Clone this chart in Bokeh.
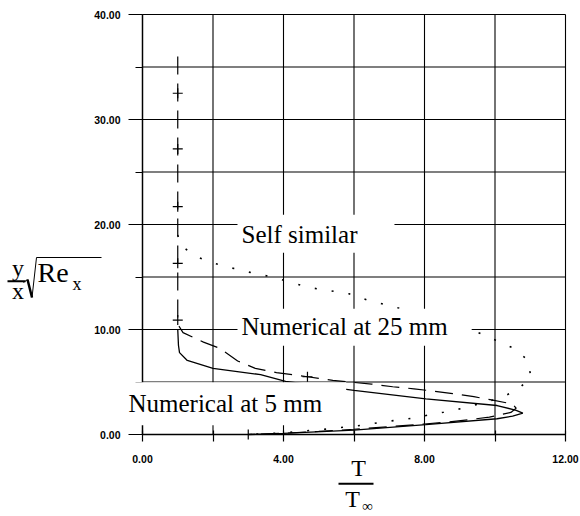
from bokeh.plotting import figure
from bokeh.models import Range1d, FixedTicker, NumeralTickFormatter, Label, Arrow
from bokeh.embed import file_html
from bokeh.resources import INLINE

# ---------------- data ----------------
# Self similar profile (dashed with + markers)
ss_T = [1.0, 1.0, 1.15, 1.73, 2.2, 2.7, 3.2, 3.8, 4.68, 5.4, 6.5, 7.1, 7.7, 8.2, 8.8, 9.4,
        9.9, 10.5, 10.6, 10.45, 9.84, 9.3, 8.7, 8.0, 7.0, 6.0, 5.0, 4.0, 3.0]
ss_eta = [36.0, 10.5, 9.7, 8.8, 8.2, 7.0, 6.3, 5.9, 5.5, 5.15, 4.8, 4.55, 4.35, 4.15, 3.9, 3.6,
          3.3, 2.9, 2.5, 2.1, 1.65, 1.43, 1.2, 1.0, 0.75, 0.5, 0.3, 0.12, 0.0]
ss_mark_T = [1.0, 1.0, 1.0, 1.0, 1.0, 4.68, 3.0]
ss_mark_eta = [32.5, 27.2, 21.7, 16.3, 10.9, 5.5, 0.0]

# Numerical at 5 mm (solid)
n5_T = [1.0, 1.02, 1.05, 1.27, 2.0, 3.35, 4.06, 6.0, 8.04, 10.06, 10.6, 10.79, 10.5, 10.06,
        8.04, 6.0, 4.0, 3.0]
n5_eta = [10.0, 8.5, 7.8, 7.05, 6.3, 5.7, 5.05, 4.2, 3.4, 2.76, 2.3, 2.03, 1.75, 1.5,
          0.95, 0.42, 0.1, 0.0]

# Numerical at 25 mm (dotted)
n25_T = [1.0, 1.08, 1.55, 2.03, 2.6, 3.1, 3.68, 4.2, 4.72, 5.3, 5.86, 6.38, 6.9, 7.42, 8.5,
         9.5, 10.5, 10.93, 11.02, 10.64, 10.14, 9.08, 8.54, 7.44, 6.9, 6.33, 5.3, 4.72, 4.0, 3.0]
n25_eta = [19.0, 18.0, 16.9, 16.3, 15.8, 15.4, 15.0, 14.5, 14.0, 13.7, 13.4, 12.8, 12.35, 11.9,
           10.9, 9.75, 8.26, 7.1, 5.46, 4.26, 3.46, 2.5, 2.12, 1.43, 1.24, 0.92, 0.54, 0.38, 0.15, 0.0]

x_ticks = [0, 4, 8, 12]
x_minor = [2, 6, 10]
x_grid = [0, 2, 4, 6, 8, 10, 12]
y_ticks = [0, 10, 20, 30, 40]
y_minor = [5, 15, 25, 35]
y_grid = [0, 5, 10, 15, 20, 25, 30, 35, 40]
x_lim = (0, 12)
y_lim = (0, 40)

SERIF = "Liberation Serif"

# plot area placement on the 580x516 canvas (pixels)
PX0, PX1 = 142.0, 565.0      # x = 0 .. 12
PY0, PY1 = 434.0, 14.0       # y = 0 .. 40
W, H = 580, 516
sx = (PX1 - PX0) / (x_lim[1] - x_lim[0])
sy = (PY0 - PY1) / (y_lim[1] - y_lim[0])


def dx(px):
    return (px - PX0) / sx


def dy(py):
    return (PY0 - py) / sy


# ---------------- figure ----------------
p = figure(width=W, height=H, x_range=Range1d(dx(0), dx(W)), y_range=Range1d(dy(H), dy(0)),
           output_backend="svg", toolbar_location=None,
           min_border_left=0, min_border_right=0, min_border_top=0, min_border_bottom=0)
p.background_fill_color = "white"
p.border_fill_color = "white"
p.outline_line_color = None
p.grid.visible = False

# grid lines restricted to the data box
p.segment(x0=x_grid, y0=[y_lim[0]] * len(x_grid), x1=x_grid, y1=[y_lim[1]] * len(x_grid),
          line_color="black", line_width=1.1)
p.segment(x0=[x_lim[0]] * len(y_grid), y0=y_grid, x1=[x_lim[1]] * len(y_grid), y1=y_grid,
          line_color="black", line_width=1.1)

p.xaxis.fixed_location = 0
p.yaxis.fixed_location = 0
p.xaxis.bounds = x_lim
p.yaxis.bounds = y_lim
p.xaxis.ticker = FixedTicker(ticks=x_ticks, minor_ticks=x_minor)
p.yaxis.ticker = FixedTicker(ticks=y_ticks, minor_ticks=y_minor)

for ax in (p.xaxis[0], p.yaxis[0]):
    ax.formatter = NumeralTickFormatter(format="0.00")
    ax.axis_line_color = "black"
    ax.axis_line_width = 1.4
    ax.major_tick_line_color = "black"
    ax.minor_tick_line_color = "black"
    ax.major_tick_line_width = 1.2
    ax.minor_tick_line_width = 1.2
    ax.major_label_text_font = "Liberation Sans"
    ax.major_label_text_font_style = "bold"
    ax.major_label_text_font_size = "10.5px"
    ax.major_label_text_color = "black"

p.yaxis.major_tick_out = 14
p.yaxis.minor_tick_out = 7
p.yaxis.major_tick_in = 0
p.yaxis.minor_tick_in = 0
p.yaxis.major_label_standoff = 8

p.xaxis.major_tick_out = 7
p.xaxis.minor_tick_out = 7
p.xaxis.major_tick_in = 4
p.xaxis.minor_tick_in = 4
p.xaxis.major_label_standoff = 13

# ---------------- curves ----------------
p.line(n5_T, n5_eta, line_color="black", line_width=1.3)
p.line(ss_T, ss_eta, line_color="black", line_width=1.2, line_dash="18 9")
p.scatter(ss_mark_T, ss_mark_eta, marker="cross", size=10, line_color="black", line_width=1.2)
p.line(n25_T, n25_eta, line_color="black", line_width=1.6, line_dash="2 15")


def seg(x0, y0, x1, y1, w):
    p.add_layout(Arrow(x_start=dx(x0), y_start=dy(y0), x_end=dx(x1), y_end=dy(y1),
                       start=None, end=None, line_color="black", line_width=w))


def txt(s, x, y, size, align="left", **kw):
    # y is the wanted baseline in canvas pixels; compensate the label's own offset
    yb = y - 0.4 * size
    p.add_layout(Label(x=dx(x), y=dy(yb), text=s, text_font=SERIF, text_font_size=f"{size}px",
                       text_color="black", text_align=align, text_baseline="alphabetic", **kw))


# curve labels with white boxes
txt("Self similar", 237, 243.3, 25, background_fill_color="white",
    padding=dict(left=4, right=37, top=6, bottom=5))
txt("Numerical at 25 mm", 237, 336.7, 25, background_fill_color="white",
    padding=dict(left=4, right=24, top=4, bottom=6))
txt("Numerical at 5 mm", 122, 413.3, 25, background_fill_color="white",
    padding=dict(left=6, right=24, top=8, bottom=8))

# x axis label: T / T_inf
txt("T", 358, 477, 24, align="center")
seg(338, 483.3, 373, 483.3, 2)
txt("T", 352, 508, 24, align="center")
txt("\u221e", 367, 511, 15, align="center")

# y axis label: y/x sqrt(Re_x)
txt("y", 17.5, 277, 24, align="center")
seg(7, 280.7, 25, 280.7, 2)
txt("x", 17.5, 300, 24, align="center")
seg(23, 282, 27, 279, 1)
seg(27, 279, 31.5, 297, 2.5)
seg(31.5, 297, 36, 257, 1)
seg(36, 257, 101, 257, 1.2)
txt("Re", 37, 283, 28)
txt("x", 72, 291, 18)

open("out.html", "w").write(file_html(p, INLINE))
